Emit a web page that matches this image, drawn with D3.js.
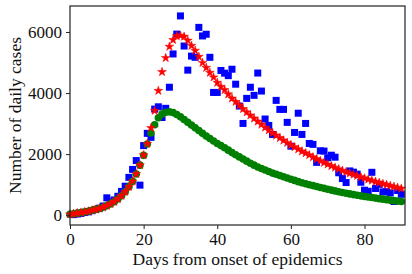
<!DOCTYPE html>
<html>
<head>
<meta charset="utf-8">
<script src="https://cdn.jsdelivr.net/npm/d3@7"></script>
<style>
  body { margin: 0; background: #fff; }
  text { font-family: "Liberation Serif", "DejaVu Serif", serif; }
</style>
</head>
<body>
<div id="chart"></div>
<script>
// reported daily cases (blue squares), days 1..90
var reportedDays = d3.range(1, 91);
var reported = [20, 40, 60, 90, 110, 150, 190, 230, 300, 570,
  440, 500, 620, 780, 950, 1240, 1500, 1790, 985, 2280,
  2680, 2550, 3475, 3550, 3200, 3500, 4190, 5280, 5930, 6525,
  5540, 4750, 5210, 5170, 6150, 5870, 5925, 5170, 4020, 4020,
  4740, 4650, 4570, 4780, 4290, 3575, 3005, 3825, 4190, 3925,
  4655, 4065, 3150, 2940, 2645, 3760, 3465, 3465, 3040, 2260,
  2710, 3340, 2645, 3005, 2350, 2320, 1730, 2110, 2100, 1880,
  1965, 1900, 1390, 1200, 1070, 1450, 1410, 1345, 1080, 820,
  785, 1405, 875, 1010, 765, 770, 730, 450, 810, 685];

// model curves, days 0..90
var modelDays = d3.range(0, 91);
var modelRed = [30, 50, 70, 90, 110, 130, 160, 190, 220, 260,
  310, 370, 440, 530, 640, 770, 930, 1110, 1350, 1640,
  1970, 2340, 2860, 3420, 4075, 4690, 5150, 5520, 5740, 5870,
  5880, 5850, 5720, 5550, 5390, 5190, 4990, 4830, 4665, 4515,
  4340, 4210, 4100, 3960, 3825, 3715, 3600, 3480, 3370, 3270,
  3170, 3070, 2970, 2870, 2780, 2690, 2610, 2530, 2450, 2370,
  2300, 2230, 2160, 2090, 2030, 1970, 1900, 1840, 1780, 1720,
  1665, 1610, 1560, 1510, 1460, 1415, 1370, 1330, 1290, 1250,
  1210, 1170, 1135, 1100, 1065, 1030, 1000, 965, 935, 905, 875];
var modelGreen = [30, 50, 70, 90, 110, 130, 160, 190, 220, 260,
  310, 370, 440, 530, 640, 770, 930, 1110, 1350, 1640,
  1960, 2330, 2690, 2960, 3190, 3310, 3370, 3385, 3360, 3300,
  3220, 3130, 3040, 2950, 2860, 2770, 2680, 2590, 2510, 2430,
  2350, 2280, 2210, 2130, 2050, 1980, 1910, 1840, 1770, 1700,
  1640, 1580, 1530, 1480, 1430, 1380, 1340, 1300, 1260, 1220,
  1180, 1140, 1100, 1065, 1030, 1000, 970, 940, 910, 880,
  850, 822, 796, 770, 745, 720, 698, 676, 655, 635,
  615, 596, 578, 560, 543, 526, 510, 494, 478, 462, 447];

var xTicks = [0, 20, 40, 60, 80];
var yTicks = [0, 2000, 4000, 6000];

var width = 412, height = 274;
var margin = { left: 70, right: 7, top: 6, bottom: 49 };

var svg = d3.select('#chart').append('svg')
  .attr('width', width)
  .attr('height', height);

var x = d3.scaleLinear().domain([0, 91])
  .range([margin.left, width - margin.right]);
var y = d3.scaleLinear().domain([-320, 6850])
  .range([height - margin.bottom, margin.top]);

var plot = svg.append('g');

// blue squares
var sq = 7;
plot.selectAll('.obs')
  .data(reported)
  .enter()
  .append('rect')
  .attr('class', 'obs')
  .attr('x', function (d, i) { return x(reportedDays[i]) - sq / 2; })
  .attr('y', function (d) { return y(d) - sq / 2; })
  .attr('width', sq)
  .attr('height', sq)
  .attr('fill', '#0000ff');

// green circles
plot.selectAll('.green')
  .data(modelGreen)
  .enter()
  .append('circle')
  .attr('class', 'green')
  .attr('cx', function (d, i) { return x(modelDays[i]); })
  .attr('cy', function (d) { return y(d); })
  .attr('r', 3.8)
  .attr('fill', '#008000');

// red stars
var star = d3.symbol().type(d3.symbolStar).size(24);
plot.selectAll('.red')
  .data(modelRed)
  .enter()
  .append('path')
  .attr('class', 'red')
  .attr('d', star)
  .attr('transform', function (d, i) {
    return 'translate(' + x(modelDays[i]) + ',' + y(d) + ')';
  })
  .attr('fill', '#ff0000')
  .attr('stroke', '#ff0000')
  .attr('stroke-width', 0.5);

// frame
svg.append('rect')
  .attr('x', margin.left)
  .attr('y', margin.top)
  .attr('width', width - margin.left - margin.right)
  .attr('height', height - margin.top - margin.bottom)
  .attr('fill', 'none')
  .attr('stroke', '#222')
  .attr('stroke-width', 1.2);

var xAxis = svg.append('g')
  .attr('transform', 'translate(0,' + (height - margin.bottom) + ')')
  .call(d3.axisBottom(x).tickValues(xTicks).tickSize(4).tickPadding(4));
var yAxis = svg.append('g')
  .attr('transform', 'translate(' + margin.left + ',0)')
  .call(d3.axisLeft(y).tickValues(yTicks).tickSize(4).tickPadding(4)
    .tickFormat(d3.format('d')));

[xAxis, yAxis].forEach(function (ax) {
  ax.select('.domain').remove();
  ax.selectAll('line').attr('stroke', '#222');
  ax.selectAll('text')
    .attr('fill', '#111')
    .style('font-size', '17px')
    .style('font-family', '"Liberation Serif", serif');
});

svg.append('text')
  .attr('x', (margin.left + width - margin.right) / 2)
  .attr('y', 265)
  .attr('text-anchor', 'middle')
  .style('font-size', '17.5px')
  .attr('fill', '#111')
  .text('Days from onset of epidemics');

svg.append('text')
  .attr('transform', 'translate(21,' + ((margin.top + height - margin.bottom) / 2) + ') rotate(-90)')
  .attr('text-anchor', 'middle')
  .style('font-size', '17.5px')
  .attr('fill', '#111')
  .text('Number of daily cases');
</script>
</body>
</html>
